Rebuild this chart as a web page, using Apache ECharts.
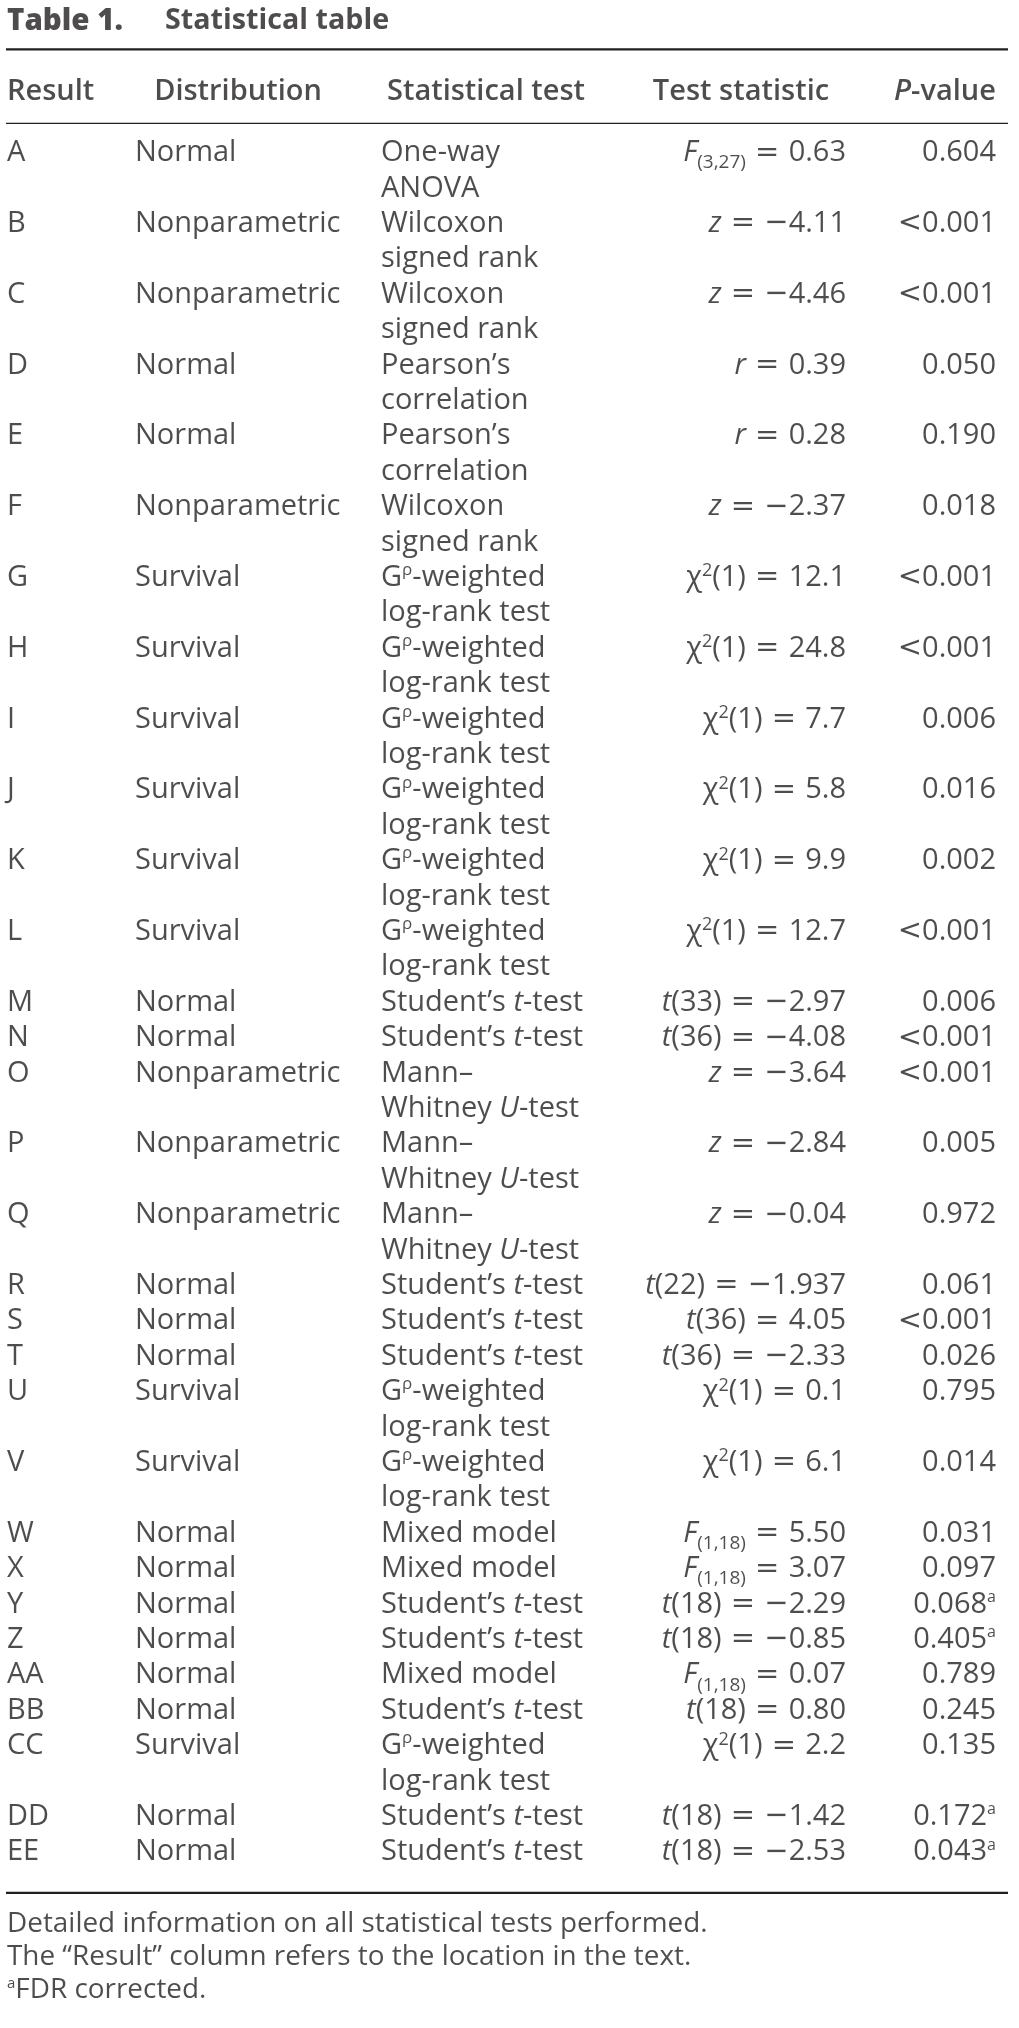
<!DOCTYPE html>
<html>
<head>
<meta charset="utf-8">
<script src="https://cdn.jsdelivr.net/npm/echarts@6/dist/echarts.min.js"></script>
<style>html,body{margin:0;padding:0;background:#fff}#c{width:1019px;height:2028px}</style>
</head>
<body>
<div id="c"></div>
<script>
// ---------------- data ----------------
const titleParts = ['Table 1.', 'Statistical table'];
const headers = ['Result', 'Distribution', 'Statistical test', 'Test statistic', '{bi|P}-value'];
const results = ['A','B','C','D','E','F','G','H','I','J','K','L','M','N','O','P','Q','R','S','T','U','V','W','X','Y','Z','AA','BB','CC','DD','EE'];
const distributions = ['Normal','Nonparametric','Nonparametric','Normal','Normal','Nonparametric','Survival','Survival','Survival','Survival','Survival','Survival','Normal','Normal','Nonparametric','Nonparametric','Nonparametric','Normal','Normal','Normal','Survival','Survival','Normal','Normal','Normal','Normal','Normal','Normal','Survival','Normal','Normal'];
const statTests = [
  'One-way\nANOVA',
  'Wilcoxon\nsigned rank',
  'Wilcoxon\nsigned rank',
  'Pearson’s\ncorrelation',
  'Pearson’s\ncorrelation',
  'Wilcoxon\nsigned rank',
  'G{rho|ρ}-weighted\nlog-rank test',
  'G{rho|ρ}-weighted\nlog-rank test',
  'G{rho|ρ}-weighted\nlog-rank test',
  'G{rho|ρ}-weighted\nlog-rank test',
  'G{rho|ρ}-weighted\nlog-rank test',
  'G{rho|ρ}-weighted\nlog-rank test',
  'Student’s {i|t}-test',
  'Student’s {i|t}-test',
  'Mann–\nWhitney {i|U}-test',
  'Mann–\nWhitney {i|U}-test',
  'Mann–\nWhitney {i|U}-test',
  'Student’s {i|t}-test',
  'Student’s {i|t}-test',
  'Student’s {i|t}-test',
  'G{rho|ρ}-weighted\nlog-rank test',
  'G{rho|ρ}-weighted\nlog-rank test',
  'Mixed model',
  'Mixed model',
  'Student’s {i|t}-test',
  'Student’s {i|t}-test',
  'Mixed model',
  'Student’s {i|t}-test',
  'G{rho|ρ}-weighted\nlog-rank test',
  'Student’s {i|t}-test',
  'Student’s {i|t}-test'
];
const testStats = [
  '{i|F}{sub|(3,27)}{m| = }0.63',
  '{i|z}{m| = −}4.11',
  '{i|z}{m| = −}4.46',
  '{i|r}{m| = }0.39',
  '{i|r}{m| = }0.28',
  '{i|z}{m| = −}2.37',
  'χ{sup|2}(1){m| = }12.1',
  'χ{sup|2}(1){m| = }24.8',
  'χ{sup|2}(1){m| = }7.7',
  'χ{sup|2}(1){m| = }5.8',
  'χ{sup|2}(1){m| = }9.9',
  'χ{sup|2}(1){m| = }12.7',
  '{i|t}(33){m| = −}2.97',
  '{i|t}(36){m| = −}4.08',
  '{i|z}{m| = −}3.64',
  '{i|z}{m| = −}2.84',
  '{i|z}{m| = −}0.04',
  '{i|t}(22){m| = −}1.937',
  '{i|t}(36){m| = }4.05',
  '{i|t}(36){m| = −}2.33',
  'χ{sup|2}(1){m| = }0.1',
  'χ{sup|2}(1){m| = }6.1',
  '{i|F}{sub|(1,18)}{m| = }5.50',
  '{i|F}{sub|(1,18)}{m| = }3.07',
  '{i|t}(18){m| = −}2.29',
  '{i|t}(18){m| = −}0.85',
  '{i|F}{sub|(1,18)}{m| = }0.07',
  '{i|t}(18){m| = }0.80',
  'χ{sup|2}(1){m| = }2.2',
  '{i|t}(18){m| = −}1.42',
  '{i|t}(18){m| = −}2.53'
];
const pValues = ['0.604','{m|<}0.001','{m|<}0.001','0.050','0.190','0.018','{m|<}0.001','{m|<}0.001','0.006','0.016','0.002','{m|<}0.001','0.006','{m|<}0.001','{m|<}0.001','0.005','0.972','0.061','{m|<}0.001','0.026','0.795','0.014','0.031','0.097','0.068{a|a}','0.405{a|a}','0.789','0.245','0.135','0.172{a|a}','0.043{a|a}'];
const footnotes = [
  'Detailed information on all statistical tests performed.',
  'The “Result” column refers to the location in the text.',
  '{a|a}FDR corrected.'
];

// ---------------- layout (positions & styles) ----------------
const W = 1019;
const LINE_PX = 35.4, LINE0_PX = 153, H = 2028;
const Y_MIN = -LINE0_PX / LINE_PX, Y_MAX = (H - LINE0_PX) / LINE_PX;
const COL_X = [7, 135, 381, 846, 996];
const HEAD_X = [7, 238, 486, 741, 945];
const TITLE_X = [7, 165];
const RULE_X = [6, 1008];
const Y_TITLE = -3.72, Y_HEAD = -1.729;
const Y_RULE_TOP = -2.927, Y_RULE_HEAD = -0.839, Y_RULE_BOT = 49.15;
const Y_FOOT = [50.03, 50.96, 51.90];
const INK = '#231f20', FONT = 'Open Sans';

function st(size, extra) {
  return Object.assign({fontFamily: FONT, fontSize: size, color: INK, verticalAlign: 'middle'}, extra || {});
}
const bodyRich = {
  n: st(29), i: st(29, {fontStyle: 'italic'}),
  sub: st(19, {padding: [20, 0, 0, 0]}),
  sup: st(18, {padding: [0, 0, 13, 0]}),
  rho: st(17, {padding: [0, 0, 15, 0]}),
  a: st(16, {padding: [0, 0, 14, 0]}),
  m: {fontFamily: 'DejaVu Sans', fontSize: 29, color: INK, verticalAlign: 'middle'}
};
const headRich = {n: st(29, {fontWeight: 600}), bi: st(29, {fontWeight: 600, fontStyle: 'italic'})};
const title1Rich = {n: st(29.5, {fontWeight: 800})};
const title2Rich = {n: st(28.7, {fontWeight: 700})};
const footRich = {n: st(27.9), a: st(15, {padding: [0, 0, 14, 0]})};

// wrap untagged text runs in {n|...}
function wrap(s) {
  return s.replace(/(^|\})([^{}]+)(?=\{|$)/g, (m, a, b) => a + '{n|' + b + '}');
}

// ---------------- build points ----------------
const cols = [results, distributions, statTests, testStats, pValues];
const leftPts = [], rightPts = [];
let line = 0;
results.forEach((_, r) => {
  let span = 1;
  cols.forEach((col, c) => {
    const parts = col[r].split('\n');
    span = Math.max(span, parts.length);
    parts.forEach((p, k) => {
      (c < 3 ? leftPts : rightPts).push({name: wrap(p), value: [COL_X[c], line + k]});
    });
  });
  line += span;
});
const headLeft = [{name: wrap(headers[0]), value: [HEAD_X[0], Y_HEAD]}];
const headCenter = headers.slice(1).map((h, i) => ({name: wrap(h), value: [HEAD_X[i + 1], Y_HEAD]}));
const title1 = [{name: wrap(titleParts[0]), value: [TITLE_X[0], Y_TITLE]}];
const title2 = [{name: wrap(titleParts[1]), value: [TITLE_X[1], Y_TITLE]}];
const footPts = footnotes.map((f, i) => ({name: wrap(f), value: [COL_X[0], Y_FOOT[i]]}));

function textSeries(data, position, rich) {
  return {
    type: 'scatter', data, symbolSize: 0, silent: true, animation: false, clip: false,
    emphasis: {disabled: true},
    label: {show: true, position, distance: 0, formatter: p => p.name, rich}
  };
}
function rule(y, width) {
  return {
    type: 'line', data: [[RULE_X[0], y], [RULE_X[1], y]], symbol: 'none', silent: true,
    animation: false, lineStyle: {color: INK, width}
  };
}

const chart = echarts.init(document.getElementById('c'), null, {renderer: 'canvas'});
chart.setOption({
  backgroundColor: '#ffffff',
  animation: false,
  grid: {left: 0, right: 0, top: 0, bottom: 0},
  xAxis: {type: 'value', min: 0, max: W, show: false},
  yAxis: {type: 'value', min: Y_MIN, max: Y_MAX, inverse: true, show: false},
  series: [
    rule(Y_RULE_TOP, 2.2), rule(Y_RULE_HEAD, 1.3), rule(Y_RULE_BOT, 2.2),
    textSeries(title1, 'right', title1Rich),
    textSeries(title2, 'right', title2Rich),
    textSeries(headLeft, 'right', headRich),
    textSeries(headCenter, 'inside', headRich),
    textSeries(leftPts, 'right', bodyRich),
    textSeries(rightPts, 'left', bodyRich),
    textSeries(footPts, 'right', footRich)
  ]
});
</script>
</body>
</html>
